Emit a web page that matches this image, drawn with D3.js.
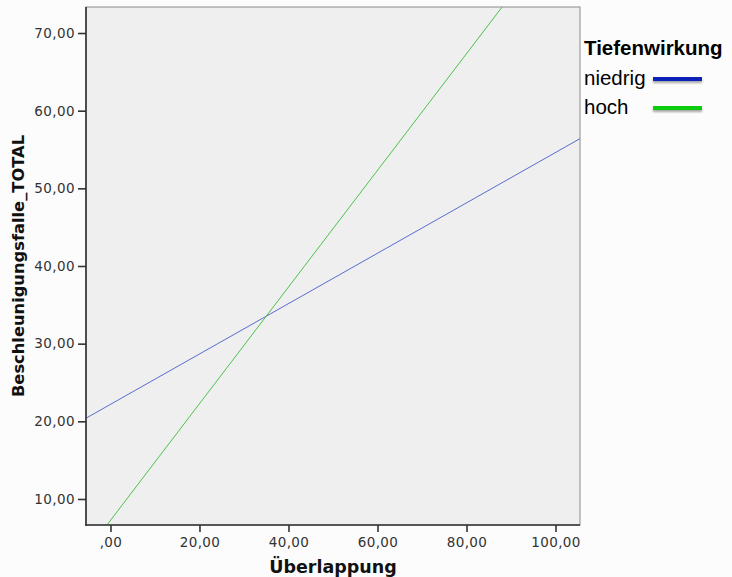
<!DOCTYPE html>
<html>
<head>
<meta charset="utf-8">
<script src="https://cdn.jsdelivr.net/npm/d3@7"></script>
<style>
  html, body { margin: 0; padding: 0; background: #fcfcfc; }
  svg { display: block; }
</style>
</head>
<body>
<svg id="chart" width="732" height="577"></svg>
<script>
// Fit lines (Überlappung -> Beschleunigungsfalle_TOTAL), per Tiefenwirkung group
const groups = ["niedrig", "hoch"];
const groupColors = ["#0a24b8", "#0ccc0c"];
const lineColors = ["#5a6cd0", "#4cc24c"];
const niedrigX = [-5.5, 105.5];
const niedrigY = [20.4, 56.4];
const hochX = [-0.8, 88.0];
const hochY = [6.65, 73.35];
const xTicks = [0, 20, 40, 60, 80, 100];
const yTicks = [10, 20, 30, 40, 50, 60, 70];
const xDomain = [-5.5, 105.5];
const yDomain = [6.65, 73.35];

const fmt = v => (v === 0 ? ",00" : v.toFixed(2).replace(".", ","));

const svg = d3.select("#chart");
const m = { left: 86, top: 7, right: 580, bottom: 525 };

const x = d3.scaleLinear().domain(xDomain).range([m.left, m.right]);
const y = d3.scaleLinear().domain(yDomain).range([m.bottom, m.top]);

const defs = svg.append("defs");

// plot background
svg.append("rect")
  .attr("x", m.left).attr("y", m.top)
  .attr("width", m.right - m.left).attr("height", m.bottom - m.top)
  .attr("fill", "#efefef")
  .attr("stroke", "#8a8a8a").attr("stroke-width", 1);

defs.append("clipPath").attr("id", "plotClip")
  .append("rect")
  .attr("x", m.left).attr("y", m.top)
  .attr("width", m.right - m.left).attr("height", m.bottom - m.top);

// fit lines
const series = [
  { name: groups[0], xs: niedrigX, ys: niedrigY, color: lineColors[0] },
  { name: groups[1], xs: hochX, ys: hochY, color: lineColors[1] }
];
const line = d3.line().x(d => x(d[0])).y(d => y(d[1]));
svg.append("g").attr("clip-path", "url(#plotClip)")
  .selectAll("path").data(series).join("path")
  .attr("d", s => line(d3.zip(s.xs, s.ys)))
  .attr("fill", "none")
  .attr("stroke", s => s.color)
  .attr("stroke-width", 1);

// axes
const axisFont = "'DejaVu Sans', Verdana, sans-serif";
const yAxis = svg.append("g")
  .attr("transform", `translate(${m.left},0)`)
  .call(d3.axisLeft(y).tickValues(yTicks).tickFormat(fmt).tickSize(8).tickPadding(3));
const xAxis = svg.append("g")
  .attr("transform", `translate(0,${m.bottom})`)
  .call(d3.axisBottom(x).tickValues(xTicks).tickFormat(fmt).tickSize(7).tickPadding(5));

[yAxis, xAxis].forEach(a => {
  a.select(".domain").remove();
  a.selectAll(".tick line").attr("stroke", "#333").attr("stroke-width", 1.6);
  a.selectAll(".tick text")
    .attr("fill", "#333")
    .style("font-family", axisFont)
    .style("font-size", "13.5px")
    .style("letter-spacing", "0.4px");
});

// axis lines (left and bottom)
svg.append("line")
  .attr("x1", m.left).attr("x2", m.left)
  .attr("y1", m.top).attr("y2", m.bottom + 0.8)
  .attr("stroke", "#333").attr("stroke-width", 1.6);
svg.append("line")
  .attr("x1", m.left - 0.8).attr("x2", m.right)
  .attr("y1", m.bottom).attr("y2", m.bottom)
  .attr("stroke", "#333").attr("stroke-width", 1.6);

// axis titles
svg.append("text")
  .attr("x", (m.left + m.right) / 2).attr("y", 573)
  .attr("text-anchor", "middle")
  .style("font-family", axisFont).style("font-weight", "bold").style("font-size", "17.5px")
  .attr("fill", "#111")
  .text("Überlappung");

svg.append("text")
  .attr("transform", `translate(24,${(m.top + m.bottom) / 2}) rotate(-90)`)
  .attr("text-anchor", "middle")
  .style("font-family", axisFont).style("font-weight", "bold").style("font-size", "16.3px")
  .attr("fill", "#111")
  .text("Beschleunigungsfalle_TOTAL");

// legend
const legFont = "'Liberation Sans', Arial, Helvetica, sans-serif";
const shadow = defs.append("filter").attr("id", "legShadow")
  .attr("filterUnits", "userSpaceOnUse")
  .attr("x", 640).attr("y", 60).attr("width", 80).attr("height", 70);
shadow.append("feDropShadow")
  .attr("dx", 0).attr("dy", 2).attr("stdDeviation", 1.2)
  .attr("flood-color", "#000").attr("flood-opacity", 0.35);

svg.append("text")
  .attr("x", 584).attr("y", 55)
  .style("font-family", legFont).style("font-weight", "bold").style("font-size", "20.5px")
  .attr("fill", "#000")
  .text("Tiefenwirkung");

const leg = svg.append("g").selectAll("g").data(groups).join("g");
leg.append("text")
  .attr("x", 584).attr("y", (d, i) => 85 + i * 29)
  .style("font-family", legFont).style("font-size", "20.5px")
  .attr("fill", "#000")
  .text(d => d);
leg.append("rect")
  .attr("x", 653).attr("width", 49)
  .attr("y", (d, i) => 77 + i * 29).attr("height", 4)
  .attr("fill", (d, i) => groupColors[i])
  .attr("filter", "url(#legShadow)");
</script>
</body>
</html>
